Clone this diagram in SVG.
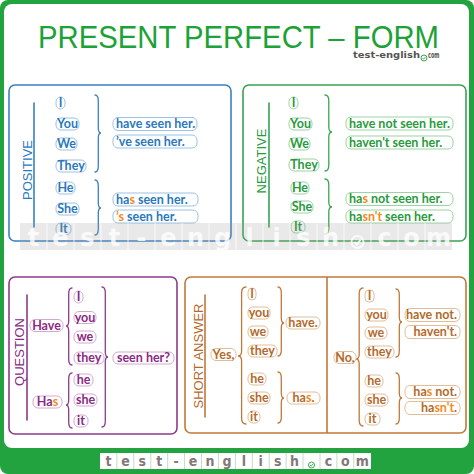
<svg xmlns="http://www.w3.org/2000/svg" width="474" height="474" viewBox="0 0 474 474">
<style>
.panel{fill:none;stroke-width:1.6}
.lab{font-family:"Liberation Sans",Arial,sans-serif;font-size:13px;text-anchor:middle}
.t{font-family:Lato,"DejaVu Sans",sans-serif;font-weight:700;font-size:12.5px}
.c{text-anchor:middle}
.r{text-anchor:end}
.pb{fill:#fff;stroke:#9cc2e4;stroke-width:1}
.pg{fill:#fff;stroke:#9cd3a6;stroke-width:1}
.pp{fill:#fff;stroke:#d6a8d0;stroke-width:1}
.po{fill:#fff;stroke:#e2bd98;stroke-width:1}
.tb{fill:#2a78bd}
.tg{fill:#289b3c}
.tp{fill:#8a2a84}
.to{fill:#b36a2c}
.hl{fill:#f28a1c}
.br{fill:none;stroke-width:1.3;stroke-linecap:round}
.wm{font-family:"DejaVu Sans",sans-serif;font-weight:700;font-size:24px;fill:#fff;text-anchor:middle}
.wb{font-family:"DejaVu Sans Condensed","DejaVu Sans",sans-serif;font-weight:700;font-size:14px;fill:#857777;text-anchor:middle}
</style>
<rect x="0" y="0" width="474" height="474" fill="#fff"/>
<rect x="0" y="0" width="474" height="474" rx="8" fill="#22a33f"/>
<rect x="4" y="4" width="465" height="444" rx="8" fill="#fff"/>
<g id="title">
<text x="38" y="48" font-family="Liberation Sans,Arial,sans-serif" font-size="31.5" fill="#1ca236" textLength="401" lengthAdjust="spacingAndGlyphs">PRESENT PERFECT – FORM</text>
<text x="353" y="57.5" font-family="DejaVu Sans Condensed,DejaVu Sans,sans-serif" font-weight="700" font-size="9.5" fill="#555" textLength="67" lengthAdjust="spacingAndGlyphs">test-english</text>
<circle cx="424" cy="58" r="3" fill="none" stroke="#3aa84a" stroke-width="1"/>
<path d="M422.5,58 L423.7,59.2 L425.6,56.8" fill="none" stroke="#3aa84a" stroke-width="0.9"/>
<text x="428" y="57.5" font-family="DejaVu Sans Condensed,DejaVu Sans,sans-serif" font-weight="700" font-size="9.5" fill="#555" textLength="11.5" lengthAdjust="spacingAndGlyphs">com</text>
</g>
<g id="panels">
<g id="positive"><rect class="panel" x="9" y="85" width="222" height="156" rx="6" stroke="#3a80c0"/><text class="lab" fill="#2a78bd" transform="translate(31.5,170) rotate(-90)">POSITIVE</text></g>
<g id="negative"><rect class="panel" x="243" y="85" width="223" height="156" rx="6" stroke="#3aa352"/><text class="lab" fill="#289b3c" transform="translate(265.5,161) rotate(-90)">NEGATIVE</text></g>
<g id="question"><rect class="panel" x="9" y="277" width="168" height="157" rx="6" stroke="#8e3a8a"/><text class="lab" fill="#8a2a84" transform="translate(23.5,352) rotate(-90)">QUESTION</text></g>
<g id="shortanswer"><rect class="panel" x="185" y="277" width="281" height="156" rx="6" stroke="#c07838"/><line x1="327" y1="277" x2="327" y2="433" stroke="#c07838" stroke-width="1.6"/><text class="lab" fill="#b36a2c" font-size="12.5" transform="translate(202.5,356) rotate(-90)">SHORT ANSWER</text></g>
</g>
<g id="connectors">
<g stroke="#3a80c0" class="br">
<line x1="34" y1="103" x2="34" y2="227" stroke-width="1.6"/>
<path d="M95,95 Q98.3,95 98.3,101 L98.3,128 Q98.3,133 101,133 Q98.3,133 98.3,138 L98.3,166 Q98.3,172 95,172"/>
<path d="M95,180 Q98.3,180 98.3,186 L98.3,203 Q98.3,208 101,208 Q98.3,208 98.3,213 L98.3,229 Q98.3,235 95,235"/>
</g>
<g stroke="#3aa352" class="br">
<line x1="269" y1="103" x2="269" y2="227" stroke-width="1.6"/>
<path d="M325,95 Q328.8,95 328.8,101 L328.8,127 Q328.8,132 332,132 Q328.8,132 328.8,137 L328.8,165 Q328.8,171 325,171"/>
<path d="M325,179 Q328.8,179 328.8,185 L328.8,202 Q328.8,207 332,207 Q328.8,207 328.8,212 L328.8,228 Q328.8,234 325,234"/>
</g>
<g stroke="#8e3a8a" class="br">
<line x1="27" y1="295" x2="27" y2="420" stroke-width="1.6"/>
<path d="M72,288 Q68.7,288 68.7,294 L68.7,321 Q68.7,326 66,326 Q68.7,326 68.7,331 L68.7,359 Q68.7,365 72,365"/>
<path d="M72,373 Q68.7,373 68.7,379 L68.7,400 Q68.7,405 66,405 Q68.7,405 68.7,410 L68.7,422 Q68.7,428 72,428"/>
<path d="M102,287 Q105.3,287 105.3,293 L105.3,352 Q105.3,357 108,357 Q105.3,357 105.3,362 L105.3,421 Q105.3,427 102,427"/>
</g>
<g stroke="#c07838" class="br">
<line x1="205" y1="295" x2="205" y2="417" stroke-width="1.6"/>
<path d="M246,287 Q241.6,287 241.6,293 L241.6,351 Q241.6,356 238,356 Q241.6,356 241.6,361 L241.6,418 Q241.6,424 246,424"/>
<path d="M278,287 Q281.3,287 281.3,293 L281.3,318 Q281.3,323 284,323 Q281.3,323 281.3,328 L281.3,350 Q281.3,356 278,356"/>
<path d="M278,372 Q281.3,372 281.3,378 L281.3,393 Q281.3,398 284,398 Q281.3,398 281.3,403 L281.3,417 Q281.3,423 278,423"/>
<path d="M363,288 Q359.2,288 359.2,294 L359.2,354 Q359.2,359 356,359 Q359.2,359 359.2,364 L359.2,420 Q359.2,426 363,426"/>
<path d="M396,289 Q399.3,289 399.3,295 L399.3,317 Q399.3,322 402,322 Q399.3,322 399.3,327 L399.3,351 Q399.3,357 396,357"/>
<path d="M396,373 Q399.3,373 399.3,379 L399.3,393 Q399.3,398 402,398 Q399.3,398 399.3,403 L399.3,418 Q399.3,424 396,424"/>
</g>
</g>
<g id="pos-nodes" class="t">
<g id="pos-i"><rect class="pb" x="56" y="97" width="9" height="12" rx="5"/><text class="tb c" x="60.5" y="107">I</text></g>
<g id="pos-you"><rect class="pb" x="56" y="118" width="23" height="12" rx="5"/><text class="tb c" x="67.5" y="128">You</text></g>
<g id="pos-we"><rect class="pb" x="56" y="138" width="21" height="12" rx="5"/><text class="tb c" x="66.5" y="148">We</text></g>
<g id="pos-they"><rect class="pb" x="56" y="160" width="30" height="12" rx="5"/><text class="tb c" x="71" y="170">They</text></g>
<g id="pos-he"><rect class="pb" x="56" y="182" width="19" height="12" rx="5"/><text class="tb c" x="65.5" y="192">He</text></g>
<g id="pos-she"><rect class="pb" x="56" y="203" width="23" height="12" rx="5"/><text class="tb c" x="67.5" y="213">She</text></g>
<g id="pos-it"><rect class="pb" x="56" y="223" width="15" height="12" rx="5"/><text class="tb c" x="63.5" y="233">It</text></g>
<g id="pos-have"><rect class="pb" x="113" y="117.5" width="84" height="13" rx="5"/><text class="tb" x="116" y="128">have seen her.</text></g>
<g id="pos-ve"><rect class="pb" x="113" y="135" width="84" height="13" rx="5"/><text class="tb" x="116" y="145.5">’ve seen her.</text></g>
<g id="pos-has"><rect class="pb" x="113" y="193" width="85" height="13" rx="5"/><text class="tb" x="116" y="203.5">ha<tspan class="hl">s</tspan> seen her.</text></g>
<g id="pos-s"><rect class="pb" x="113" y="210" width="85" height="13" rx="5"/><text class="tb" x="116" y="220.5"><tspan class="hl">’s</tspan> seen her.</text></g>
</g>
<g id="neg-nodes" class="t">
<g id="neg-i"><rect class="pg" x="289" y="97" width="9" height="12" rx="5"/><text class="tg c" x="293.5" y="107">I</text></g>
<g id="neg-you"><rect class="pg" x="289" y="118" width="23" height="12" rx="5"/><text class="tg c" x="300.5" y="128">You</text></g>
<g id="neg-we"><rect class="pg" x="289" y="138" width="21" height="12" rx="5"/><text class="tg c" x="299.5" y="148">We</text></g>
<g id="neg-they"><rect class="pg" x="289" y="159" width="30" height="12" rx="5"/><text class="tg c" x="304" y="169">They</text></g>
<g id="neg-he"><rect class="pg" x="291" y="182" width="18" height="12" rx="5"/><text class="tg c" x="300" y="192">He</text></g>
<g id="neg-she"><rect class="pg" x="291" y="201" width="22" height="12" rx="5"/><text class="tg c" x="302" y="211">She</text></g>
<g id="neg-it"><rect class="pg" x="291" y="221" width="14" height="12" rx="5"/><text class="tg c" x="298" y="231">It</text></g>
<g id="neg-havenot"><rect class="pg" x="346" y="117" width="107" height="13" rx="5"/><text class="tg" x="349" y="127.5">have not seen her.</text></g>
<g id="neg-havent"><rect class="pg" x="346" y="136" width="107" height="13" rx="5"/><text class="tg" x="349" y="146.5">haven't seen her.</text></g>
<g id="neg-hasnot"><rect class="pg" x="346" y="192.5" width="107" height="13" rx="5"/><text class="tg" x="349" y="203">ha<tspan class="hl">s</tspan> not seen her.</text></g>
<g id="neg-hasnt"><rect class="pg" x="346" y="210" width="107" height="13" rx="5"/><text class="tg" x="349" y="220.5">ha<tspan class="hl">sn't</tspan> seen her.</text></g>
</g>
<g id="q-nodes" class="t">
<g id="q-have"><rect class="pp" x="30" y="319.5" width="33" height="12" rx="5"/><text class="tp c" x="46.5" y="329.5">Have</text></g>
<g id="q-has"><rect class="pp" x="33" y="396" width="29" height="12" rx="5"/><text class="tp c" x="47.5" y="406">Ha<tspan class="hl">s</tspan></text></g>
<g id="q-i"><rect class="pp" x="74" y="291" width="9" height="12" rx="5"/><text class="tp c" x="78.5" y="301">I</text></g>
<g id="q-you"><rect class="pp" x="74" y="311.5" width="22" height="12" rx="5"/><text class="tp c" x="85" y="321.5">you</text></g>
<g id="q-we"><rect class="pp" x="74" y="331" width="22" height="12" rx="5"/><text class="tp c" x="85" y="341">we</text></g>
<g id="q-they"><rect class="pp" x="74" y="352" width="30" height="12" rx="5"/><text class="tp c" x="89" y="362">they</text></g>
<g id="q-he"><rect class="pp" x="74" y="374" width="19" height="12" rx="5"/><text class="tp c" x="83.5" y="384">he</text></g>
<g id="q-she"><rect class="pp" x="74" y="394" width="23" height="12" rx="5"/><text class="tp c" x="85.5" y="404">she</text></g>
<g id="q-it"><rect class="pp" x="74" y="415" width="14" height="12" rx="5"/><text class="tp c" x="81" y="425">it</text></g>
<g id="q-seen"><rect class="pp" x="113" y="352" width="61" height="12" rx="5"/><text class="tp c" x="143.5" y="362">seen her?</text></g>
</g>
<g id="yes-nodes" class="t">
<g id="y-yes"><rect class="po" x="211" y="348.5" width="25" height="12" rx="5"/><text class="to c" x="223.5" y="358.5">Yes,</text></g>
<g id="y-i"><rect class="po" x="248" y="288" width="8" height="12" rx="4"/><text class="to c" x="252" y="298">I</text></g>
<g id="y-you"><rect class="po" x="248" y="307" width="22" height="12" rx="5"/><text class="to c" x="259" y="317">you</text></g>
<g id="y-we"><rect class="po" x="248" y="326" width="20" height="12" rx="5"/><text class="to c" x="258" y="336">we</text></g>
<g id="y-they"><rect class="po" x="248" y="345" width="29" height="12" rx="5"/><text class="to c" x="262.5" y="355">they</text></g>
<g id="y-he"><rect class="po" x="248" y="373" width="18" height="12" rx="5"/><text class="to c" x="257" y="383">he</text></g>
<g id="y-she"><rect class="po" x="248" y="392" width="22" height="12" rx="5"/><text class="to c" x="259" y="402">she</text></g>
<g id="y-it"><rect class="po" x="248" y="411" width="12" height="12" rx="5"/><text class="to c" x="254" y="421">it</text></g>
<g id="y-have"><rect class="po" x="286" y="317" width="34" height="12" rx="5"/><text class="to c" x="303" y="327">have.</text></g>
<g id="y-has"><rect class="po" x="287" y="392" width="33" height="12" rx="5"/><text class="to c" x="303.5" y="402">ha<tspan class="hl">s</tspan>.</text></g>
</g>
<g id="no-nodes" class="t">
<g id="n-no"><rect class="po" x="334" y="351.5" width="22" height="12" rx="5"/><text class="to c" x="345" y="361.5">No,</text></g>
<g id="n-i"><rect class="po" x="365" y="290" width="9" height="12" rx="4"/><text class="to c" x="369.5" y="300">I</text></g>
<g id="n-you"><rect class="po" x="365" y="309" width="23" height="12" rx="5"/><text class="to c" x="376.5" y="319">you</text></g>
<g id="n-we"><rect class="po" x="365" y="327" width="22" height="12" rx="5"/><text class="to c" x="376" y="337">we</text></g>
<g id="n-they"><rect class="po" x="365" y="346" width="29" height="12" rx="5"/><text class="to c" x="379.5" y="356">they</text></g>
<g id="n-he"><rect class="po" x="365" y="375" width="18" height="12" rx="5"/><text class="to c" x="374" y="385">he</text></g>
<g id="n-she"><rect class="po" x="365" y="394" width="23" height="12" rx="5"/><text class="to c" x="376.5" y="404">she</text></g>
<g id="n-it"><rect class="po" x="365" y="413" width="15" height="12" rx="5"/><text class="to c" x="372.5" y="423">it</text></g>
<g id="n-havenot"><rect class="po" x="405" y="308.5" width="55" height="13" rx="5"/><text class="to r" x="457" y="319">have not.</text></g>
<g id="n-havent"><rect class="po" x="405" y="325.5" width="55" height="13" rx="5"/><text class="to r" x="457" y="336">haven't.</text></g>
<g id="n-hasnot"><rect class="po" x="405" y="385.5" width="55" height="13" rx="5"/><text class="to r" x="457" y="396">ha<tspan class="hl">s</tspan> not.</text></g>
<g id="n-hasnt"><rect class="po" x="405" y="401.5" width="55" height="13" rx="5"/><text class="to r" x="457" y="412">ha<tspan class="hl">sn't</tspan>.</text></g>
</g>
<g id="watermark-mid">
<rect x="20" y="223" width="432" height="27" fill="#9a9a9a" opacity="0.22"/>
<g stroke="#fff" stroke-width="1" opacity="0.8">
<line x1="47" y1="223" x2="47" y2="250"/><line x1="74" y1="223" x2="74" y2="250"/><line x1="101" y1="223" x2="101" y2="250"/><line x1="128" y1="223" x2="128" y2="250"/><line x1="155" y1="223" x2="155" y2="250"/><line x1="182" y1="223" x2="182" y2="250"/><line x1="209" y1="223" x2="209" y2="250"/><line x1="236" y1="223" x2="236" y2="250"/><line x1="263" y1="223" x2="263" y2="250"/><line x1="290" y1="223" x2="290" y2="250"/><line x1="317" y1="223" x2="317" y2="250"/><line x1="344" y1="223" x2="344" y2="250"/><line x1="371" y1="223" x2="371" y2="250"/><line x1="398" y1="223" x2="398" y2="250"/><line x1="425" y1="223" x2="425" y2="250"/>
</g>
<g class="wm" opacity="0.8">
<text x="33.5" y="246">t</text><text x="60.5" y="246">e</text><text x="87.5" y="246">s</text><text x="114.5" y="246">t</text><text x="141.5" y="246">-</text><text x="168.5" y="246">e</text><text x="195.5" y="246">n</text><text x="222.5" y="246">g</text><text x="249.5" y="246">l</text><text x="276.5" y="246">i</text><text x="303.5" y="246">s</text><text x="330.5" y="246">h</text><text x="384.5" y="246">c</text><text x="411.5" y="246">o</text><text x="438.5" y="246">m</text>
</g>
<circle cx="357.5" cy="242" r="6" fill="none" stroke="#fff" stroke-width="2" opacity="0.8"/>
<path d="M354.5,242 L357,244.5 L360.5,239.5" fill="none" stroke="#fff" stroke-width="2" opacity="0.8"/>
</g>
<g id="watermark-bottom">
<rect x="100" y="453" width="271" height="16" fill="#fff"/>
<g stroke="#c4dcc8" stroke-width="1">
<line x1="116.9" y1="453" x2="116.9" y2="469"/><line x1="133.8" y1="453" x2="133.8" y2="469"/><line x1="150.8" y1="453" x2="150.8" y2="469"/><line x1="167.7" y1="453" x2="167.7" y2="469"/><line x1="184.6" y1="453" x2="184.6" y2="469"/><line x1="201.5" y1="453" x2="201.5" y2="469"/><line x1="218.4" y1="453" x2="218.4" y2="469"/><line x1="235.4" y1="453" x2="235.4" y2="469"/><line x1="252.3" y1="453" x2="252.3" y2="469"/><line x1="269.2" y1="453" x2="269.2" y2="469"/><line x1="286.1" y1="453" x2="286.1" y2="469"/><line x1="303" y1="453" x2="303" y2="469"/><line x1="320" y1="453" x2="320" y2="469"/><line x1="336.9" y1="453" x2="336.9" y2="469"/><line x1="353.8" y1="453" x2="353.8" y2="469"/>
</g>
<g class="wb">
<text x="108.5" y="466">t</text><text x="125.4" y="466">e</text><text x="142.3" y="466">s</text><text x="159.2" y="466">t</text><text x="176.2" y="466">-</text><text x="193.1" y="466">e</text><text x="210" y="466">n</text><text x="226.9" y="466">g</text><text x="243.8" y="466">l</text><text x="260.7" y="466">i</text><text x="277.7" y="466">s</text><text x="294.6" y="466">h</text><text x="328.4" y="466">c</text><text x="345.3" y="466">o</text><text x="362.2" y="466">m</text>
</g>
<circle cx="311.5" cy="465" r="3" fill="none" stroke="#3aa84a" stroke-width="1"/>
<path d="M310,465 L311.2,466.2 L313,463.8" fill="none" stroke="#3aa84a" stroke-width="0.9"/>
</g>
</svg>
